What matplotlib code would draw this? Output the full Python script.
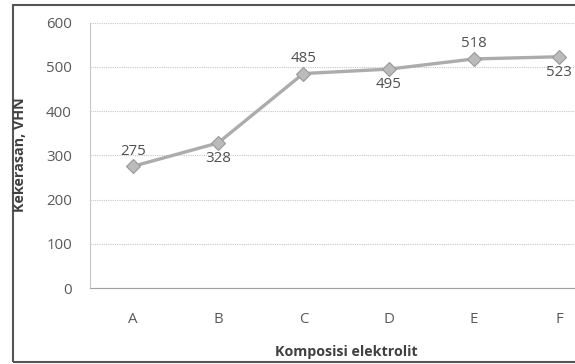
import matplotlib
matplotlib.use("Agg")
from matplotlib import pyplot as plt
from matplotlib.patches import Rectangle

# data
categories = ["A", "B", "C", "D", "E", "F"]
hardness = [275, 328, 485, 495, 518, 523]
label_above = [True, False, True, False, True, False]
y_ticks = [0, 100, 200, 300, 400, 500, 600]

plt.rcParams['font.family'] = ['Open Sans', 'DejaVu Sans']

fig = plt.figure(figsize=(5.75, 3.64), dpi=100)
fig.patch.set_facecolor("white")

# plot area runs off the right edge, like the cropped original
ax = fig.add_axes([90 / 575, 1 - 288 / 364, 512 / 575, (288 - 22.7) / 364])

x = list(range(len(categories)))
ax.plot(x, hardness, color="#acacac", lw=2.4, marker="D", ms=7,
        markerfacecolor="#bbbbbb", markeredgecolor="#999999", markeredgewidth=0.8,
        zorder=3, clip_on=False)

for xi, v, up in zip(x, hardness, label_above):
    ax.annotate(str(v), (xi, v), xytext=(0, 11 if up else -11), textcoords="offset points",
                ha="center", va="center", fontsize=10.8, color="#505050")

ax.set_xlim(-0.5, len(categories) - 0.5)
ax.set_ylim(0, 600)
ax.set_yticks(y_ticks)
ax.set_xticks(x)
ax.set_xticklabels(categories)
ax.tick_params(axis="both", length=0, labelsize=10.8, labelcolor="#595959")
ax.tick_params(axis="x", pad=17)
ax.tick_params(axis="y", pad=13)

ax.grid(axis="y", color="#c8c8c8", linestyle=(0, (1, 1)), lw=0.8)
for side in ["top", "right"]:
    ax.spines[side].set_visible(False)
ax.spines["left"].set_color("#c8c8c8")
ax.spines["left"].set_linestyle((0, (1, 1)))
ax.spines["bottom"].set_color("#a0a0a0")
ax.spines["bottom"].set_linestyle((0, (1, 1)))

fig.text(20 / 575, 1 - 155 / 364, "Kekerasan, VHN", rotation=90, ha="center", va="center",
         fontsize=10.3, fontweight="bold", color="#404040")
fig.text(346 / 575, 1 - 352 / 364, "Komposisi elektrolit", ha="center", va="center",
         fontsize=10.3, fontweight="bold", color="#404040")

# outer chart frame
frame = Rectangle((12.5 / 575, 1 - 362 / 364), 1.0, (362 - 5) / 364, transform=fig.transFigure,
                  fill=False, edgecolor="#555555", lw=1.5, clip_on=False)
fig.patches.append(frame)

fig.savefig("out.png", dpi=100)
